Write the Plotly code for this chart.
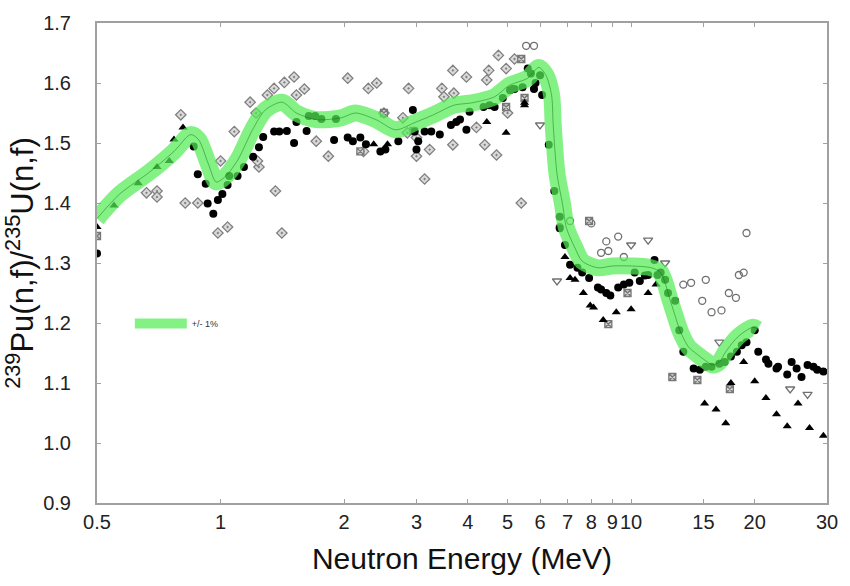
import plotly.graph_objects as go

# Green +/- 1% band (evaluation curve)
band_E = [0.5, 0.568, 0.67, 0.77, 0.845, 0.883, 0.934, 0.976, 1.03, 1.104, 1.196, 1.285, 1.413,
          1.53, 1.71, 1.967, 2.13, 2.39, 2.67, 2.97, 3.3, 3.7, 4.1, 4.65, 5.05, 5.6, 5.96, 6.2,
          6.4, 6.46, 6.6, 6.8, 6.96, 7.3, 7.6, 8.3, 9.0, 10.0, 11.2, 11.8, 12.5, 13.2, 13.8,
          14.4, 15.2, 15.8, 16.4, 17.0, 18.2, 19.8, 20.3]
band_R = [1.374, 1.415, 1.451, 1.486, 1.514, 1.506, 1.465, 1.435, 1.445, 1.473, 1.522, 1.555, 1.568,
          1.55, 1.539, 1.542, 1.55, 1.539, 1.522, 1.534, 1.547, 1.563, 1.567, 1.577, 1.596, 1.608, 1.626, 1.613,
          1.58, 1.53, 1.448, 1.40, 1.358, 1.325, 1.303, 1.292, 1.295, 1.295, 1.292, 1.284, 1.234, 1.185, 1.16,
          1.149, 1.137, 1.13, 1.135, 1.152, 1.177, 1.193, 1.19]

# Black filled circles
circ_E = [0.5, 0.86, 0.88, 0.92, 0.93, 0.96, 0.985, 1.01, 1.04, 1.05, 1.10, 1.14, 1.20, 1.24, 1.27, 1.35,
          1.39, 1.45, 1.51, 1.53, 1.62, 1.64, 1.70, 1.76, 1.89, 1.91, 2.04, 2.10, 2.19, 2.26, 2.45, 2.52,
          2.71, 2.94, 3.0, 3.14, 3.26, 3.42, 3.64, 3.75, 3.83, 3.97, 4.04, 4.37, 4.52, 4.65, 4.87, 5.07,
          5.15, 5.2, 5.44, 5.6, 5.7, 5.85, 5.8, 2.97, 3.03, 6.0, 6.07, 6.3, 6.5, 6.7, 6.9, 6.7, 7.1, 7.4,
          7.6, 7.9, 8.3, 8.45, 8.7, 8.9, 9.3, 9.6, 9.9, 10.2, 10.5, 10.8, 11.0, 11.4, 11.6, 11.8, 12.1,
          12.3, 12.8, 13.1, 13.4, 14.2, 14.7, 15.2, 15.7, 16.4, 16.9, 17.5, 18.1, 18.6, 19.1, 20.0, 20.4,
          21.3, 21.6, 22.6, 22.8, 24.0, 24.6, 25.3, 26.0, 26.9, 27.8, 28.4, 29.4]
circ_R = [1.316, 1.494, 1.448, 1.432, 1.399, 1.382, 1.405, 1.415, 1.43, 1.445, 1.445, 1.46, 1.477, 1.493,
          1.51, 1.519, 1.519, 1.52, 1.50, 1.535, 1.52, 1.545, 1.545, 1.54, 1.505, 1.54, 1.509, 1.503, 1.509,
          1.498, 1.486, 1.489, 1.503, 1.555, 1.489, 1.519, 1.519, 1.514, 1.53, 1.535, 1.539, 1.522, 1.552,
          1.56, 1.563, 1.56, 1.575, 1.588, 1.59, 1.59, 1.593, 1.624, 1.616, 1.60, 1.59, 1.519, 1.503, 1.613,
          1.58, 1.497, 1.42, 1.377, 1.33, 1.358, 1.297, 1.292, 1.284, 1.275, 1.259, 1.256, 1.25, 1.246,
          1.259, 1.264, 1.267, 1.284, 1.27, 1.279, 1.28, 1.305, 1.28, 1.284, 1.272, 1.25, 1.237, 1.188,
          1.152, 1.124, 1.122, 1.127, 1.127, 1.132, 1.135, 1.144, 1.152, 1.163, 1.168, 1.188, 1.152, 1.139,
          1.132, 1.124, 1.127, 1.114, 1.135, 1.124, 1.11, 1.13, 1.127, 1.122, 1.119]

# Black filled triangles
tri_E = [0.5, 0.55, 0.63, 0.70, 0.75, 0.77, 0.81, 2.36, 2.55, 4.45, 4.96, 5.5, 5.5, 6.9, 7.1, 7.3, 7.65,
         7.95, 8.1, 8.55, 9.2, 10.0, 11.0, 11.5, 15.1, 16.1, 17.0, 17.5, 18.8, 20.0, 21.3, 22.6, 24.0,
         25.5, 27.2, 29.4]
tri_R = [1.36, 1.396, 1.433, 1.46, 1.47, 1.506, 1.526, 1.498, 1.498, 1.535, 1.517, 1.567, 1.563, 1.31,
         1.275, 1.272, 1.25, 1.229, 1.226, 1.205, 1.218, 1.223, 1.25, 1.264, 1.066, 1.056, 1.033, 1.10,
         1.135, 1.103, 1.075, 1.048, 1.028, 1.066, 1.025, 1.012]

# Gray open diamonds
dia_E = [0.80, 0.70, 0.66, 0.70, 0.82, 0.88, 0.985, 1.04, 1.0, 1.08, 1.18, 1.22, 1.24, 1.30, 1.35, 1.43,
         1.51, 1.36, 1.41, 1.60, 1.53, 1.71, 1.83, 2.04, 2.29, 2.4, 2.87, 2.5, 2.23, 2.78, 3.0, 3.23,
         3.46, 3.5, 3.68, 3.97, 3.7, 4.2, 4.45, 4.5, 4.75, 4.96, 5.0, 4.4, 4.7, 5.2, 3.14, 2.85, 3.0,
         3.68, 5.4, 1.23]
dia_R = [1.547, 1.42, 1.417, 1.41, 1.40, 1.40, 1.35, 1.36, 1.47, 1.519, 1.568, 1.55, 1.46, 1.58, 1.591,
         1.601, 1.61, 1.42, 1.35, 1.59, 1.58, 1.503, 1.478, 1.608, 1.591, 1.60, 1.591, 1.55, 1.486, 1.542,
         1.509, 1.489, 1.591, 1.577, 1.621, 1.61, 1.583, 1.526, 1.605, 1.621, 1.646, 1.624, 1.55, 1.497,
         1.48, 1.64, 1.44, 1.517, 1.478, 1.497, 1.40, 1.47]

# Gray open circles
oc_E = [5.55, 5.8, 19.1, 13.4, 14.0, 15.2, 14.9, 15.7, 16.6, 17.3, 18.0, 18.3, 18.8, 9.3, 8.45, 8.8,
        9.6, 8.7, 8.0, 7.1, 6.7]
oc_R = [1.662, 1.662, 1.35, 1.264, 1.267, 1.272, 1.237, 1.218, 1.221, 1.25, 1.242, 1.28, 1.284, 1.344,
        1.317, 1.32, 1.31, 1.336, 1.366, 1.37, 1.36]

# Gray open inverted triangles
it_E = [11.0, 12.1, 10.0, 16.4, 24.4, 26.9, 6.0, 6.6]
it_R = [1.338, 1.30, 1.33, 1.168, 1.09, 1.081, 1.53, 1.27]

# Gray crossed squares
sq_E = [0.5, 12.6, 14.5, 17.4, 8.8, 9.8, 7.9, 2.19, 2.5, 2.95, 4.96, 5.5, 5.4]
sq_R = [1.345, 1.11, 1.105, 1.09, 1.198, 1.25, 1.37, 1.486, 1.55, 1.52, 1.56, 1.575, 1.64]

x_ticks = [0.5, 1, 2, 3, 4, 5, 6, 7, 8, 9, 10, 15, 20, 30]
x_tick_text = ["0.5", "1", "2", "3", "4", "5", "6", "7", "8", "9", "10", "15", "20", "30"]
y_ticks = [0.9, 1.0, 1.1, 1.2, 1.3, 1.4, 1.5, 1.6, 1.7]
y_tick_text = ["0.9", "1.0", "1.1", "1.2", "1.3", "1.4", "1.5", "1.6", "1.7"]

fig = go.Figure()

def pts(x, y, symbol, color, size=7, lw=1, line_color=None):
    fig.add_trace(go.Scatter(x=x, y=y, mode="markers", showlegend=False,
                             marker=dict(symbol=symbol, size=size, color=color,
                                         line=dict(width=lw, color=line_color or color))))

pts(dia_E, dia_R, "diamond-dot", "#dadada", 8, 1.3, "#808080")
pts(oc_E, oc_R, "circle-open", "#707070", 7, 1.3)
pts(it_E, it_R, "triangle-down-open", "#707070", 8, 1.3)
pts(sq_E, sq_R, "square-x", "#d6d6d6", 7, 1.3, "#777777")
pts(tri_E, tri_R, "triangle-up", "black", 8, 0)
pts(circ_E, circ_R, "circle", "black", 8, 0)

fig.add_trace(go.Scatter(x=band_E, y=band_R, mode="lines", name="+/- 1%",
                         line=dict(color="rgba(85,235,85,0.72)", width=17, shape="spline", smoothing=0.8),
                         showlegend=True))
fig.add_trace(go.Scatter(x=band_E, y=band_R, mode="lines", showlegend=False,
                         line=dict(color="rgba(0,110,0,0.45)", width=1, shape="spline", smoothing=0.8)))

axis_common = dict(showline=True, linecolor="#a0a0a0", linewidth=2, mirror="ticks", ticks="inside",
                   ticklen=4, tickcolor="#a0a0a0", showgrid=False, zeroline=False,
                   tickfont=dict(family="Liberation Sans, Arial", size=20, color="#222"))

fig.update_layout(
    width=850, height=586,
    margin=dict(l=97, r=12, t=17, b=83),
    plot_bgcolor="white", paper_bgcolor="white",
    xaxis=dict(type="log", range=[-0.30103, 1.47712], tickvals=x_ticks, ticktext=x_tick_text,
               title=dict(text="Neutron Energy (MeV)", standoff=16,
                          font=dict(family="Liberation Sans, Arial", size=30, color="#111")),
               **axis_common),
    yaxis=dict(range=[0.9, 1.7], tickvals=y_ticks, ticktext=y_tick_text, ticklabelstandoff=20,
               title=dict(text="<sup>239</sup>Pu(n,f)/<sup>235</sup>U(n,f)", standoff=4,
                          font=dict(family="Liberation Sans, Arial", size=31, color="#111")),
               **axis_common),
    legend=dict(x=0.045, y=0.374, xanchor="left", yanchor="middle", bgcolor="rgba(0,0,0,0)",
                itemwidth=52, font=dict(family="Liberation Sans, Arial", size=9, color="#333")),
)

fig.write_html("out.html")
